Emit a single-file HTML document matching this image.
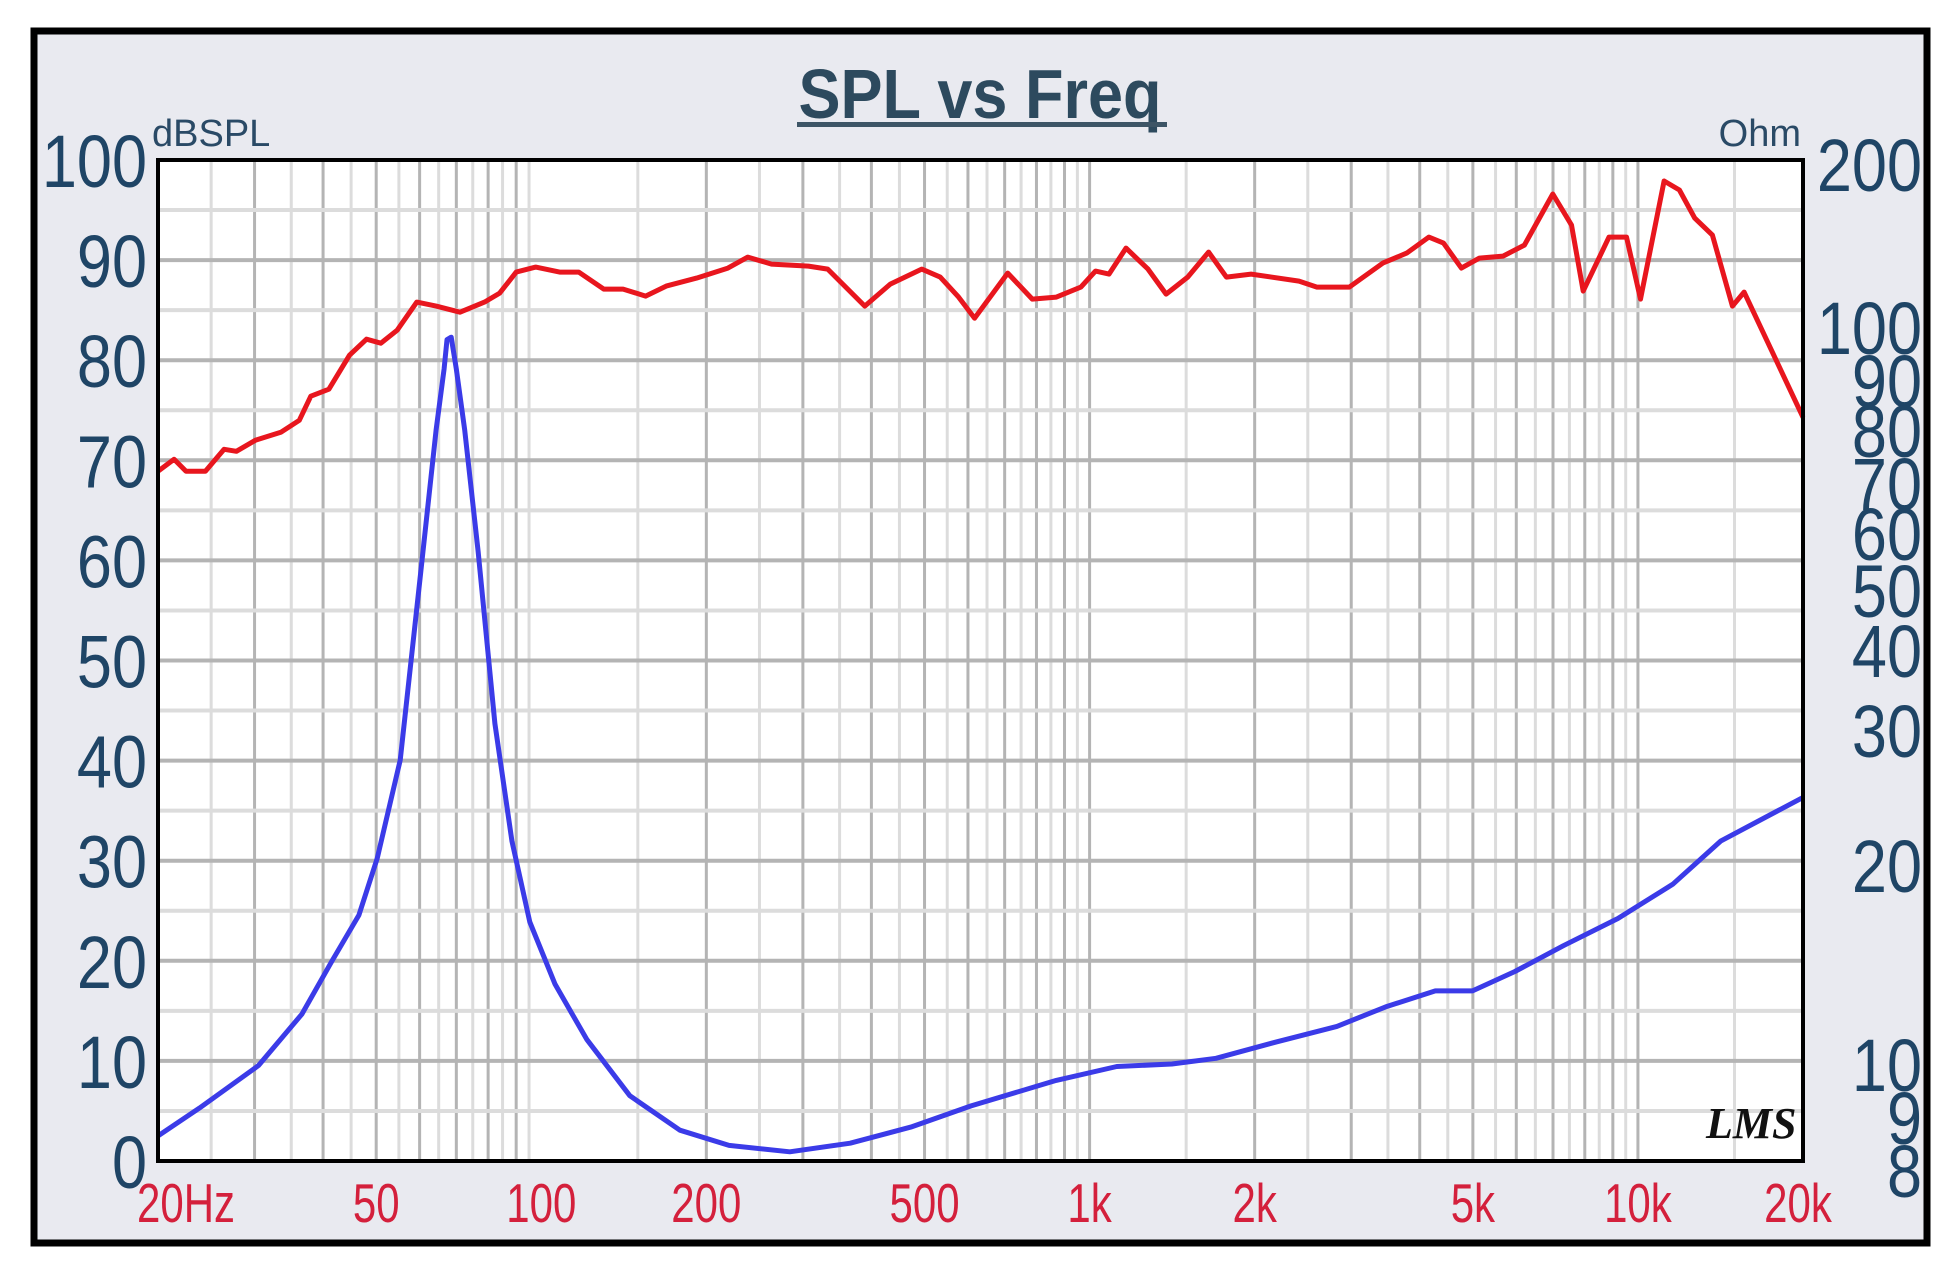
<!DOCTYPE html>
<html><head><meta charset="utf-8"><style>
html,body{margin:0;padding:0;background:#fff;}
svg{display:block;}
</style></head><body>
<svg id="chart" width="1952" height="1280" viewBox="0 0 1952 1280" xmlns="http://www.w3.org/2000/svg" font-family="Liberation Sans, Arial, sans-serif">
  <rect x="0" y="0" width="1952" height="1280" fill="#ffffff"/>
  <rect x="34" y="31" width="1893" height="1212" fill="#e9eaf0" stroke="#000" stroke-width="7"/>
  <g>
    <text x="980" y="118" text-anchor="middle" font-size="63" font-weight="bold" fill="#2d4a5e" transform="translate(980 118) scale(1 1.1) translate(-980 -118)">SPL vs Freq</text>
    <rect x="797" y="122" width="370" height="5" fill="#3d5566"/>
  </g>
  <text x="152" y="146" font-size="38" fill="#2a4a66">dBSPL</text>
  <text x="1801" y="146" font-size="38" fill="#2a4a66" text-anchor="end">Ohm</text>
  <rect x="158" y="160" width="1645" height="1001" fill="#ffffff"/>
  <g id="grid"></g>
  <g id="series"></g>
  <rect x="158" y="160" width="1645" height="1001" fill="none" stroke="#000" stroke-width="4"/>
  <g id="ylabels"></g>
  <g id="rlabels"></g>
  <g id="xlabels"></g>
  <text x="1706" y="1138" font-size="44" font-weight="bold" font-style="italic" font-family="Liberation Serif, serif" fill="#111">LMS</text>
</svg>
<script>
// ---- data ----
const splFreq = [20,21.4,22.5,24.4,26.4,27.8,30.1,33.5,36.2,38,41,44.7,48,51,54.6,59.3,64.3,71.1,78.8,84,90,97.7,108,117,130,141,155,169,192,219,238,263,307,333,389,433,494,534,577,617,709,786,870,964,1025,1085,1165,1278,1379,1510,1648,1776,1970,2409,2597,2976,3426,3787,4156,4419,4765,5138,5676,6207,6995,7564,7947,8856,9530,10110,11160,11900,12690,13670,14870,15620,20000];
const splDb = [68.9,70.1,68.9,68.9,71.1,70.9,72,72.8,74,76.4,77.1,80.5,82.1,81.7,83,85.8,85.4,84.8,85.8,86.7,88.8,89.3,88.8,88.8,87.1,87.1,86.4,87.4,88.2,89.2,90.3,89.6,89.4,89.1,85.4,87.6,89.1,88.3,86.3,84.2,88.7,86.1,86.3,87.3,88.9,88.6,91.2,89.1,86.6,88.3,90.8,88.3,88.6,87.9,87.3,87.3,89.7,90.7,92.3,91.7,89.2,90.2,90.4,91.5,96.6,93.5,86.9,92.3,92.3,86.1,97.9,97,94.2,92.5,85.4,86.8,74.3];
const impFreq = [20,23.8,30.5,36.6,41.5,46.5,50.2,55.3,60.2,64.3,66.5,67.3,68.5,70,72.5,76.7,82.3,88.4,95.3,106,121,145,179,220,284,366,472,608,869,1121,1413,1700,2191,2825,3466,4271,4993,5966,7312,9193,11570,14170,20000];
const impOhm = [8.63,9.16,9.97,11.9,14.3,16.8,20.4,27.4,52.4,80,92,97.5,98,92,80,56.6,30.7,21.5,16.4,13.2,10.9,9.39,8.74,8.45,8.33,8.49,8.8,9.2,9.68,9.95,10,10.2,10.8,11.4,12.2,12.9,12.9,13.8,15.1,16.6,18.7,21.5,24.5];
const dbTicks = [0,10,20,30,40,50,60,70,80,90,100];
const ohmTickVals = [200,100,90,80,70,60,50,40,30,20,10,9,8];
const xTickVals = [20,50,100,200,500,1000,2000,5000,10000,20000];
const xTickText = ["20Hz","50","100","200","500","1k","2k","5k","10k","20k"];

// ---- axes ----
const L=158,R=1803,T=160,B=1161;
function xs(f){return L+(R-L)*Math.log10(f/20)/3;}
function ys(db){return B-(B-T)*db/100;}
const ohmTickY=[164,327,380,430,483,533,590,650,730,865,1064,1117,1170];
function yo(o){
  const lo=Math.log10(o);
  for(let i=0;i<ohmTickVals.length-1;i++){
    const a=Math.log10(ohmTickVals[i]),b=Math.log10(ohmTickVals[i+1]);
    if(lo<=a&&lo>=b){return ohmTickY[i]+(a-lo)/(a-b)*(ohmTickY[i+1]-ohmTickY[i]);}
  }
  return lo>Math.log10(200)?ohmTickY[0]:ohmTickY[ohmTickY.length-1];
}
const NS="http://www.w3.org/2000/svg";
function mk(tag,attrs,parent){const e=document.createElementNS(NS,tag);for(const k in attrs)e.setAttribute(k,attrs[k]);parent.appendChild(e);return e;}

// grid
const grid=document.getElementById('grid');
const vLines=[];
for(let f=25;f<100;f+=5)vLines.push(f);
vLines.push(150);
for(let f=200;f<1000;f+=50)vLines.push(f);
vLines.push(1000,1500);
for(let f=2000;f<10000;f+=500)vLines.push(f);
vLines.push(10000,15000);
vLines.forEach(f=>{
  const d=Math.log10(f);const dark=Math.abs(d-Math.round(d))<1e-9||[2,3,4,5,6,7,8,9].some(m=>Math.abs(f/Math.pow(10,Math.floor(d))-m)<1e-9);
  const x=xs(f);
  const ln=mk('line',{x1:x,x2:x,y1:T,y2:B,stroke:dark?'#b4b4b4':'#dcdcdc','stroke-width':3},grid);
  
  
});
for(let v=5;v<100;v+=5){
  const y=ys(v);
  const ln=mk('line',{x1:L,x2:R,y1:y,y2:y,stroke:v%10===0?'#b4b4b4':'#dcdcdc','stroke-width':4},grid);
  
  
}

// series
const ser=document.getElementById('series');
const redPts=splFreq.map((f,i)=>xs(f).toFixed(1)+','+ys(splDb[i]).toFixed(1)).join(' ');
const red=mk('polyline',{points:redPts,fill:'none',stroke:'#e8161e','stroke-width':5,'stroke-linejoin':'round'},ser);


const bluePts=impFreq.map((f,i)=>xs(f).toFixed(1)+','+yo(impOhm[i]).toFixed(1)).join(' ');
const blue=mk('polyline',{points:bluePts,fill:'none',stroke:'#3b3be8','stroke-width':5,'stroke-linejoin':'round'},ser);



// labels
const yl=document.getElementById('ylabels');
dbTicks.forEach(v=>{
  const by=ys(v)+27;
  const t=mk('text',{x:147,y:by,'text-anchor':'end','font-size':63,fill:'#1f4566',transform:`translate(147 ${by}) scale(1 1.18) translate(-147 ${-by})`},yl);
  t.textContent=String(v);
  
  
});
const rl=document.getElementById('rlabels');
ohmTickVals.forEach((v,i)=>{
  const by=ohmTickY[i]+27;
  const t=mk('text',{x:1922,y:by,'text-anchor':'end','font-size':63,fill:'#1f4566',transform:`translate(1922 ${by}) scale(1 1.18) translate(-1922 ${-by})`},rl);
  t.textContent=String(v);
  
  
});
const xl=document.getElementById('xlabels');
xTickVals.forEach((v,i)=>{
  let x=xs(v);
  if(i===0)x+=28; if(i===xTickVals.length-1)x-=5;
  const by=1222;
  const t=mk('text',{x:x,y:by,'text-anchor':'middle','font-size':42,fill:'#d4203c',transform:`translate(${x} ${by}) scale(1 1.3) translate(${-x} ${-by})`},xl);
  t.textContent=xTickText[i];
  
  
});
</script>
</body></html>
